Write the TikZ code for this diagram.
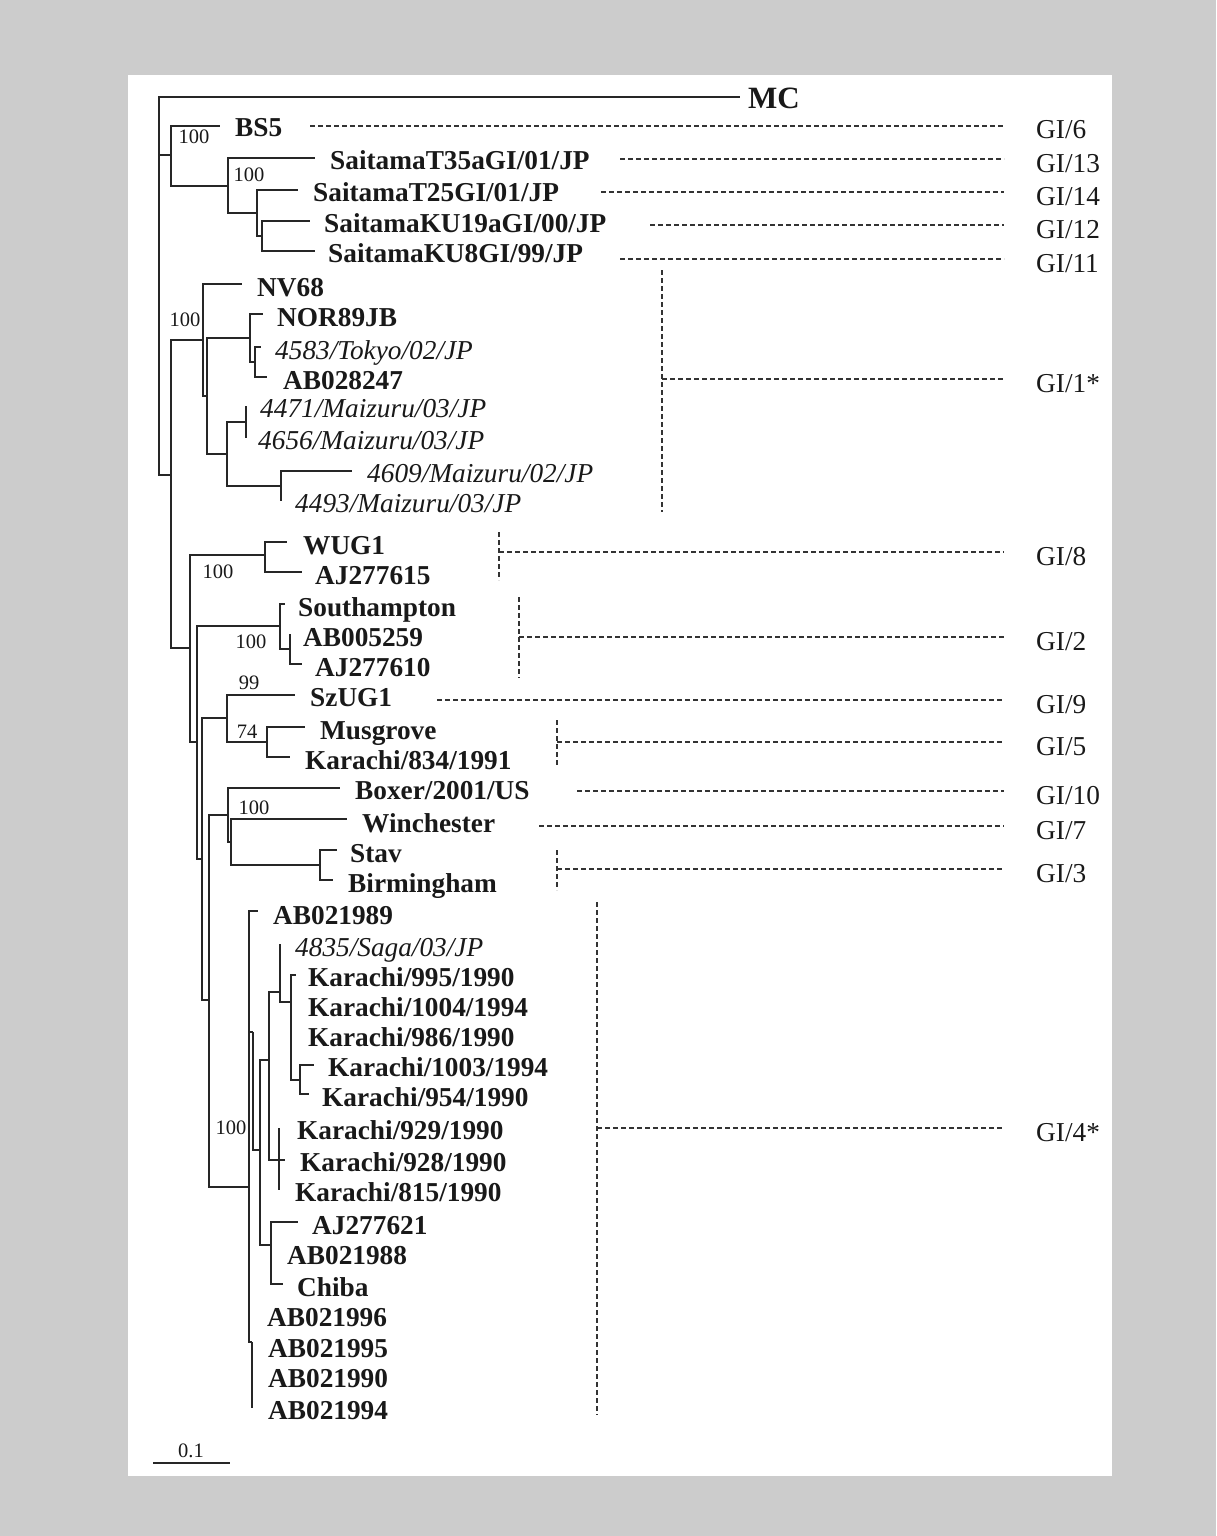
\documentclass[tikz,border=0pt]{standalone}
\usepackage{fontspec}
\setmainfont{Liberation Serif}
\usetikzlibrary{calc}
\newcommand\tlf[7][lab]{\coordinate (#2) at (#3,#4);\node[#1] (#2L) at (#5,#6+9) {#7};}
\newcommand\gil[4]{\coordinate (#1) at (#2,#3-4);\node[gilab] (#1L) at (1036,#3+9) {#4};\draw[dsh] (#1) -- (#1 -| #1L.west);}
\newcommand\edges[2]{\foreach \c in {#2} {\draw[br] (#1) |- (\c);}}
\begin{document}
\begin{tikzpicture}[x=1pt,y=-1pt,
 br/.style={line width=1.4pt, draw=black!85, line join=miter},
 dsh/.style={line width=1.1pt, draw=black!80, dash pattern=on 5pt off 3pt, shorten >=32pt},
 dshv/.style={line width=1.1pt, draw=black!80, dash pattern=on 5pt off 3pt},
 lab/.style={anchor=base west, inner sep=0pt, text=black!90, font=\fontsize{27.3}{30}\selectfont\bfseries},
 ital/.style={lab, font=\fontsize{27.3}{30}\selectfont\itshape},
 gilab/.style={anchor=base west, inner sep=0pt, text=black!90, font=\fontsize{27.3}{30}\selectfont},
 bsl/.style={inner sep=0pt, text=black!90, font=\fontsize{20.5}{22}\selectfont}]
\useasboundingbox (0,0) rectangle (1216,1536);
\fill[black!20] (0,0) rectangle (1216,1536);
\fill[white] (128,75) rectangle (1112,1476);

% internal nodes
\coordinate (R0) at (159,300);
\coordinate (N1) at (171,155);
\coordinate (N2) at (228,186);
\coordinate (N3) at (257,213);
\coordinate (N4) at (262,236);
\coordinate (G) at (171,475);
\coordinate (A) at (203,340);
\coordinate (B) at (207,396);
\coordinate (C) at (250,338);
\coordinate (C2) at (255,362);
\coordinate (D) at (227,454);
\coordinate (E) at (246,422);
\coordinate (F) at (281,486);
\coordinate (H) at (190,648);
\coordinate (WU) at (265,555);
\coordinate (J) at (197,742);
\coordinate (So) at (280,626);
\coordinate (So2) at (290,649);
\coordinate (K) at (202,859);
\coordinate (I) at (227,718);
\coordinate (Mu) at (267,742);
\coordinate (L) at (209,1000);
\coordinate (M) at (228,815);
\coordinate (Np) at (231,842);
\coordinate (St) at (320,865);
\coordinate (O) at (249,1187);
\coordinate (R) at (253,1032);
\coordinate (S) at (260,1150);
\coordinate (T) at (269,1060);
\coordinate (W) at (280,992);
\coordinate (Y) at (291,1002);
\coordinate (Z) at (300,1080);
\coordinate (X) at (279,1160);
\coordinate (U) at (271,1245);
\coordinate (Q) at (252,1342);

% leaves: name, tip x, tip y, label x, label centre y, text
\tlf[lab,font=\fontsize{31}{33}\selectfont\bfseries]{mc}{740}{97}{748}{100}{MC}
\tlf{bs5}{220}{126}{235}{127}{BS5}
\tlf{t35}{315}{158}{330}{160}{SaitamaT35aGI/01/JP}
\tlf{t25}{298}{190}{313}{192}{SaitamaT25GI/01/JP}
\tlf{k19}{310}{221}{324}{223}{SaitamaKU19aGI/00/JP}
\tlf{k8}{315}{251}{328}{253}{SaitamaKU8GI/99/JP}
\tlf{nv68}{242}{284}{257}{287}{NV68}
\tlf{nor}{263}{314}{277}{317}{NOR89JB}
\tlf[ital]{tok}{261}{347}{275}{350}{4583/Tokyo/02/JP}
\tlf{ab028}{267}{377}{283}{380}{AB028247}
\tlf[ital]{m4471}{246}{406}{260}{408}{4471/Maizuru/03/JP}
\tlf[ital]{m4656}{246}{438}{258}{440}{4656/Maizuru/03/JP}
\tlf[ital]{m4609}{352}{471}{367}{473}{4609/Maizuru/02/JP}
\tlf[ital]{m4493}{281}{501}{295}{503}{4493/Maizuru/03/JP}
\tlf{wug}{287}{542}{303}{545}{WUG1}
\tlf{aj615}{302}{572}{315}{575}{AJ277615}
\tlf{south}{285}{604}{298}{607}{Southampton}
\tlf{ab259}{290}{634}{303}{637}{AB005259}
\tlf{aj610}{302}{664}{315}{667}{AJ277610}
\tlf{szu}{295}{695}{310}{697}{SzUG1}
\tlf{mus}{305}{727}{320}{730}{Musgrove}
\tlf{k834}{290}{757}{305}{760}{Karachi/834/1991}
\tlf{box}{340}{788}{355}{790}{Boxer/2001/US}
\tlf{win}{347}{819}{362}{823}{Winchester}
\tlf{stav}{337}{850}{350}{853}{Stav}
\tlf{birm}{333}{880}{348}{883}{Birmingham}
\tlf{ab989}{258}{911}{273}{915}{AB021989}
\tlf[ital]{saga}{280}{944}{295}{947}{4835/Saga/03/JP}
\tlf{k995}{296}{975}{308}{977}{Karachi/995/1990}
\tlf{k1004}{291}{1005}{308}{1007}{Karachi/1004/1994}
\tlf{k986}{291}{1035}{308}{1037}{Karachi/986/1990}
\tlf{k1003}{314}{1065}{328}{1067}{Karachi/1003/1994}
\tlf{k954}{309}{1094}{322}{1097}{Karachi/954/1990}
\tlf{k929}{279}{1128}{297}{1130}{Karachi/929/1990}
\tlf{k928}{285}{1160}{300}{1162}{Karachi/928/1990}
\tlf{k815}{279}{1190}{295}{1192}{Karachi/815/1990}
\tlf{aj621}{298}{1222}{312}{1225}{AJ277621}
\tlf{ab988}{271}{1252}{287}{1255}{AB021988}
\tlf{chiba}{283}{1284}{297}{1287}{Chiba}
\tlf{ab996}{249}{1314}{267}{1317}{AB021996}
\tlf{ab995}{252}{1346}{268}{1348}{AB021995}
\tlf{ab990}{252}{1376}{268}{1378}{AB021990}
\tlf{ab994}{252}{1408}{268}{1410}{AB021994}

% branches
\edges{R0}{mc,N1,G}
\edges{N1}{bs5,N2}
\edges{N2}{t35,N3}
\edges{N3}{t25,N4}
\edges{N4}{k19,k8}
\edges{G}{A,H}
\edges{A}{nv68,B}
\edges{B}{C,D}
\edges{C}{nor,C2}
\edges{C2}{tok,ab028}
\edges{D}{E,F}
\edges{E}{m4471,m4656}
\edges{F}{m4609,m4493}
\edges{H}{WU,J}
\edges{WU}{wug,aj615}
\edges{J}{So,K}
\edges{So}{south,So2}
\edges{So2}{ab259,aj610}
\edges{K}{I,L}
\edges{I}{szu,Mu}
\edges{Mu}{mus,k834}
\edges{L}{M,O}
\edges{M}{box,Np}
\edges{Np}{win,St}
\edges{St}{stav,birm}
\edges{O}{ab989,R,ab996,Q}
\edges{R}{S}
\edges{S}{T,U}
\edges{T}{W,X}
\edges{W}{saga,Y}
\edges{Y}{k995,k1004,k986,Z}
\edges{Z}{k1003,k954}
\edges{X}{k929,k928,k815}
\edges{U}{aj621,ab988,chiba}
\edges{Q}{ab995,ab990,ab994}

% bootstrap values
\node[bsl] (b1) at (194,137) {100};
\node[bsl] (b2) at (249,175) {100};
\node[bsl] (b3) at (185,320) {100};
\node[bsl] (b4) at (218,572) {100};
\node[bsl] (b5) at (251,642) {100};
\node[bsl] (b6) at (249,683) {99};
\node[bsl] (b7) at (247,732) {74};
\node[bsl] (b8) at (254,808) {100};
\node[bsl] (b9) at (231,1128) {100};

% genogroup lines
\gil{g6}{310}{130}{GI/6}
\gil{g13}{620}{163}{GI/13}
\gil{g14}{601}{196}{GI/14}
\gil{g12}{650}{229}{GI/12}
\gil{g11}{620}{263}{GI/11}
\gil{g1}{662}{383}{GI/1*}
\gil{g8}{499}{556}{GI/8}
\gil{g2}{519}{641}{GI/2}
\gil{g9}{437}{704}{GI/9}
\gil{g5}{557}{746}{GI/5}
\gil{g10}{577}{795}{GI/10}
\gil{g7}{539}{830}{GI/7}
\gil{g3}{557}{873}{GI/3}
\gil{g4}{597}{1132}{GI/4*}
\draw[dshv] (662,270) -- (662,512);
\draw[dshv] (499,532) -- (499,580);
\draw[dshv] (519,597) -- (519,678);
\draw[dshv] (557,720) -- (557,765);
\draw[dshv] (557,850) -- (557,890);
\draw[dshv] (597,902) -- (597,1415);

% scale bar
\coordinate (sb1) at (153,1463);
\coordinate (sb2) at (230,1463);
\draw[br] (sb1) -- (sb2);
\node[bsl] (sbl) at (191,1451) {0.1};
\end{tikzpicture}
\end{document}
